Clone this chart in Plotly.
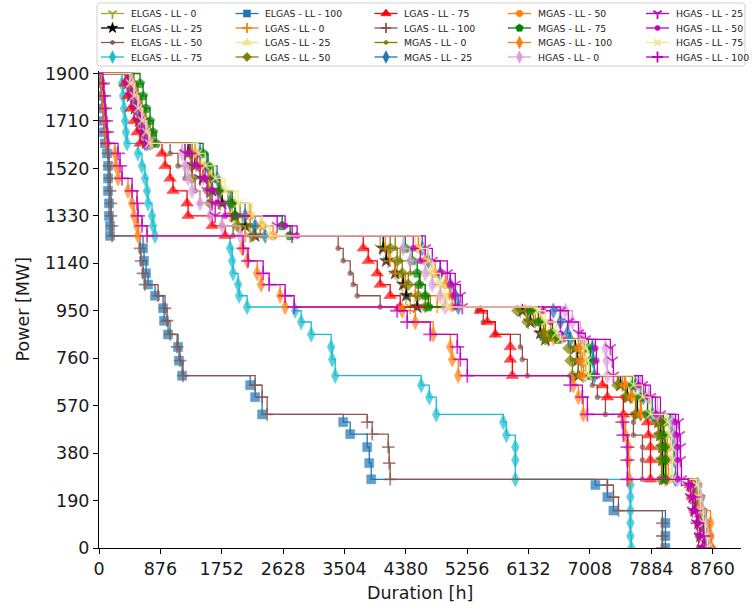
import plotly.graph_objects as go

# ---------------------------------------------------------------------------
# Duration curves of gas-fired output: hours [h] and power [MW] per scenario
# ---------------------------------------------------------------------------
ELGAS_LL_0_h = [0, 443, 500, 557, 614, 672, 729, 1229, 1329, 1443, 1586, 1729, 1901, 2044, 2158,
                4015, 4130, 4258, 4330, 4387, 4444, 6016, 6131, 6302, 6416, 6873, 6902, 6916,
                7474, 7588, 7731, 8017, 8045, 8074, 8074, 8088, 8488, 8517, 8545, 8588, 8631, 8660]
ELGAS_LL_0_mw = [1900, 1860, 1810, 1760, 1710, 1665, 1620, 1580, 1530, 1480, 1430, 1380, 1330, 1290, 1250,
                 1200, 1150, 1100, 1055, 1010, 965, 950, 905, 860, 835, 800, 750, 690,
                 652, 604, 535, 504, 452, 404, 352, 275, 252, 204, 150, 100, 48, 0]

ELGAS_LL_25_h = [0, 414, 457, 514, 572, 629, 672, 1272, 1372, 1486, 1615, 1758, 1943, 2086, 2229,
                 4058, 4101, 4230, 4344, 4387, 4544, 6045, 6159, 6302, 6373, 6802, 6831, 6845,
                 7445, 7545, 7688, 7988, 8017, 8045, 8045, 8060, 8445, 8474, 8502, 8560, 8588, 8631]
ELGAS_LL_25_mw = [1900, 1860, 1810, 1760, 1710, 1665, 1620, 1580, 1530, 1480, 1430, 1380, 1330, 1290, 1250,
                  1200, 1150, 1100, 1055, 1010, 965, 950, 905, 860, 835, 800, 750, 690,
                  652, 604, 535, 504, 452, 404, 352, 275, 252, 204, 150, 100, 48, 0]

ELGAS_LL_50_h = [0, 386, 429, 486, 543, 600, 643, 1015, 1129, 1229, 1372, 1443, 1586, 1758, 1915,
                 3415, 3487, 3587, 3630, 3687, 4015, 5402, 5487, 5659, 6016, 6045, 6116,
                 7045, 7116, 7231, 7631, 7631, 7760, 7760, 7760, 8474, 8502, 8531, 8545, 8545, 8560]
ELGAS_LL_50_mw = [1900, 1860, 1810, 1760, 1710, 1665, 1620, 1580, 1530, 1480, 1430, 1380, 1330, 1290, 1250,
                  1200, 1150, 1100, 1055, 1010, 965, 950, 905, 855, 805, 755, 690,
                  652, 604, 535, 504, 452, 404, 352, 275, 252, 204, 150, 100, 48, 0]

ELGAS_LL_75_h = [0, 329, 343, 357, 372, 386, 400, 557, 614, 657, 686, 700, 757, 772, 800,
                 1872, 1901, 1915, 1986, 2001, 2115, 2801, 2887, 3030, 3315, 3330, 3372,
                 4601, 4716, 4816, 5773, 5816, 5945, 5945, 5945, 7588, 7588, 7588, 7588, 7588, 7602]
ELGAS_LL_75_mw = [1900, 1860, 1810, 1760, 1710, 1665, 1620, 1580, 1530, 1480, 1430, 1380, 1330, 1290, 1250,
                  1200, 1150, 1100, 1055, 1010, 965, 950, 905, 855, 805, 755, 690,
                  652, 604, 535, 504, 452, 404, 352, 275, 252, 204, 150, 100, 48, 0]

ELGAS_LL_100_h = [0, 14, 29, 43, 57, 71, 86, 114, 129, 129, 129, 143, 143, 157, 157,
                  629, 643, 672, 700, 800, 915, 929, 986, 1129, 1143, 1186,
                  2158, 2229, 2329, 3487, 3587, 3830, 3859, 3887, 7088, 7259, 7345, 8088, 8088, 8088]
ELGAS_LL_100_mw = [1900, 1860, 1810, 1760, 1710, 1665, 1620, 1580, 1530, 1480, 1430, 1380, 1330, 1290, 1250,
                   1200, 1150, 1100, 1055, 1010, 960, 910, 855, 805, 750, 690,
                   652, 604, 535, 504, 456, 404, 340, 275, 252, 204, 150, 100, 48, 0]

LGAS_LL_0_h = [0, 429, 472, 529, 586, 643, 700, 1300, 1386, 1486, 1615, 1729, 1872, 1986, 2086,
               4087, 4158, 4230, 4373, 4516, 4830, 6088, 6230, 6373, 6488, 6902, 6931, 6945,
               7517, 7617, 7731, 8031, 8060, 8088, 8102, 8102, 8502, 8545, 8588, 8645, 8688, 8717]
LGAS_LL_0_mw = [1900, 1860, 1810, 1760, 1710, 1665, 1620, 1580, 1530, 1480, 1430, 1380, 1330, 1290, 1250,
                1200, 1150, 1100, 1055, 1010, 965, 950, 905, 860, 835, 800, 750, 690,
                652, 604, 535, 504, 452, 404, 352, 275, 252, 204, 150, 100, 48, 0]

LGAS_LL_25_h = [0, 472, 529, 586, 643, 700, 757, 1372, 1486, 1615, 1758, 1943, 2129, 2301, 2444,
                4516, 4659, 4730, 4844, 4887, 4916, 6230, 6330, 6488, 6559, 6916, 6945, 6959,
                7588, 7702, 7845, 8102, 8131, 8159, 8159, 8174, 8531, 8574, 8617, 8660, 8703, 8731]
LGAS_LL_25_mw = [1900, 1860, 1810, 1760, 1710, 1665, 1620, 1580, 1530, 1480, 1430, 1380, 1330, 1290, 1250,
                 1200, 1150, 1100, 1055, 1010, 965, 950, 905, 860, 835, 800, 750, 690,
                 652, 604, 535, 504, 452, 404, 352, 275, 252, 204, 150, 100, 48, 0]

LGAS_LL_50_h = [0, 486, 543, 600, 657, 715, 757, 1300, 1315, 1329, 1558, 1586, 1943, 1972, 2201,
                4158, 4258, 4330, 4416, 4559, 4659, 5973, 6116, 6345, 6373, 6702, 6731, 6759,
                7402, 7517, 7660, 7974, 7988, 8017, 8017, 8031, 8488, 8517, 8545, 8574, 8603, 8631]
LGAS_LL_50_mw = [1900, 1860, 1810, 1760, 1710, 1665, 1620, 1580, 1530, 1480, 1430, 1380, 1330, 1290, 1250,
                 1200, 1150, 1100, 1055, 1010, 965, 950, 905, 860, 835, 800, 750, 690,
                 652, 604, 535, 504, 452, 404, 352, 275, 252, 204, 150, 100, 48, 0]

LGAS_LL_75_h = [0, 372, 414, 457, 500, 543, 586, 900, 943, 1015, 1057, 1258, 1272, 1615, 1801,
                3773, 3844, 3973, 4015, 4158, 4301, 5444, 5545, 5659, 5873, 5873, 5902,
                7188, 7259, 7488, 7831, 7845, 7874, 7874, 7874, 8445, 8474, 8517, 8588, 8617, 8631]
LGAS_LL_75_mw = [1900, 1860, 1810, 1760, 1710, 1665, 1620, 1580, 1530, 1480, 1430, 1380, 1330, 1290, 1250,
                 1200, 1150, 1100, 1055, 1010, 965, 950, 905, 855, 805, 755, 690,
                 652, 604, 535, 504, 452, 404, 352, 275, 252, 204, 150, 100, 48, 0]

LGAS_LL_100_h = [0, 29, 43, 57, 71, 86, 100, 129, 143, 157, 157, 171, 171, 186, 186,
                 586, 600, 629, 657, 843, 943, 972, 1015, 1115, 1157, 1200,
                 2229, 2329, 2401, 3830, 3901, 4130, 4144, 4158, 7259, 7345, 7417, 8045, 8045, 8045]
LGAS_LL_100_mw = [1900, 1860, 1810, 1760, 1710, 1665, 1620, 1580, 1530, 1480, 1430, 1380, 1330, 1290, 1250,
                  1200, 1150, 1100, 1055, 1010, 960, 910, 855, 805, 750, 690,
                  652, 604, 535, 504, 456, 404, 340, 275, 252, 204, 150, 100, 48, 0]

MGAS_LL_0_h = [0, 500, 557, 614, 672, 729, 786, 1329, 1443, 1558, 1700, 1843, 2015, 2158, 2301,
               4230, 4301, 4444, 4587, 4659, 4730, 6116, 6202, 6373, 6445, 6788, 6816, 6845,
               7417, 7531, 7674, 7959, 7988, 8017, 8031, 8045, 8474, 8502, 8531, 8574, 8617, 8660]
MGAS_LL_0_mw = [1900, 1860, 1810, 1760, 1710, 1665, 1620, 1580, 1530, 1480, 1430, 1380, 1330, 1290, 1250,
                1200, 1150, 1100, 1055, 1010, 965, 950, 905, 860, 835, 800, 750, 690,
                652, 604, 535, 504, 452, 404, 352, 275, 252, 204, 150, 100, 48, 0]

MGAS_LL_25_h = [0, 443, 486, 543, 586, 643, 686, 1443, 1543, 1686, 1729, 1872, 2086, 2229, 2372,
                4616, 4701, 4873, 5016, 5087, 5130, 6488, 6588, 6688, 6731, 7045, 7059, 7074,
                7660, 7774, 7902, 8159, 8188, 8217, 8217, 8231, 8545, 8574, 8603, 8645, 8674, 8703]
MGAS_LL_25_mw = [1900, 1860, 1810, 1760, 1710, 1665, 1620, 1580, 1530, 1480, 1430, 1380, 1330, 1290, 1250,
                 1200, 1150, 1100, 1055, 1010, 965, 950, 905, 860, 835, 800, 750, 690,
                 652, 604, 535, 504, 452, 404, 352, 275, 252, 204, 150, 100, 48, 0]

MGAS_LL_50_h = [0, 457, 514, 572, 629, 686, 729, 1372, 1443, 1586, 1729, 1901, 2158, 2329, 2486,
                4559, 4659, 4801, 4944, 5016, 5044, 6188, 6302, 6445, 6530, 6845, 6873, 6888,
                7502, 7602, 7745, 8045, 8074, 8117, 8117, 8131, 8517, 8560, 8603, 8674, 8717, 8745]
MGAS_LL_50_mw = [1900, 1860, 1810, 1760, 1710, 1665, 1620, 1580, 1530, 1480, 1430, 1380, 1330, 1290, 1250,
                 1200, 1150, 1100, 1055, 1010, 965, 950, 905, 860, 835, 800, 750, 690,
                 652, 604, 535, 504, 452, 404, 352, 275, 252, 204, 150, 100, 48, 0]

MGAS_LL_75_h = [0, 586, 629, 672, 729, 772, 815, 1486, 1558, 1629, 1715, 1901, 1943, 2615, 2729,
                4373, 4473, 4544, 4573, 4659, 4701, 6159, 6273, 6473, 6559, 6988, 7016, 7016,
                7617, 7731, 7831, 8060, 8060, 8088, 8088, 8088, 8545, 8588, 8617, 8660, 8688, 8717]
MGAS_LL_75_mw = [1900, 1860, 1810, 1760, 1710, 1665, 1620, 1580, 1530, 1480, 1430, 1380, 1330, 1290, 1250,
                 1200, 1150, 1100, 1055, 1010, 965, 950, 905, 860, 835, 800, 750, 690,
                 652, 604, 535, 504, 452, 404, 352, 275, 252, 204, 150, 100, 48, 0]

MGAS_LL_100_h = [0, 43, 57, 71, 86, 100, 114, 229, 243, 272, 414, 472, 500, 543, 557,
                 2044, 2115, 2258, 2315, 2586, 2658, 4330, 4516, 4773, 5016, 5044, 5130,
                 6774, 6845, 6916, 7488, 7517, 7559, 7559, 7574, 8445, 8474, 8560, 8731, 8731, 8745]
MGAS_LL_100_mw = [1900, 1860, 1810, 1760, 1710, 1665, 1620, 1580, 1530, 1480, 1430, 1380, 1330, 1290, 1250,
                  1200, 1150, 1100, 1055, 1010, 965, 950, 905, 855, 805, 755, 690,
                  652, 604, 535, 504, 452, 404, 352, 275, 252, 204, 150, 100, 48, 0]

HGAS_LL_0_h = [0, 472, 514, 572, 629, 686, 729, 1186, 1229, 1272, 1329, 1443, 1586, 1758, 2015,
               4344, 4444, 4659, 4759, 4873, 4944, 6659, 6759, 6873, 6916, 7231, 7245, 7259,
               7731, 7845, 7974, 8188, 8217, 8245, 8245, 8260, 8560, 8588, 8617, 8660, 8688, 8717]
HGAS_LL_0_mw = [1900, 1860, 1810, 1760, 1710, 1665, 1620, 1580, 1530, 1480, 1430, 1380, 1330, 1290, 1250,
                1200, 1150, 1100, 1055, 1010, 965, 950, 905, 860, 835, 800, 750, 690,
                652, 604, 535, 504, 452, 404, 352, 275, 252, 204, 150, 100, 48, 0]

HGAS_LL_25_h = [0, 400, 457, 514, 572, 614, 657, 1229, 1329, 1443, 1543, 1615, 1658, 2544, 2758,
                4659, 4759, 4973, 5087, 5159, 5187, 6588, 6702, 6845, 6945, 7302, 7331, 7345,
                7760, 7874, 8017, 8274, 8288, 8302, 8302, 8317, 8417, 8445, 8474, 8531, 8574, 8617]
HGAS_LL_25_mw = [1900, 1860, 1810, 1760, 1710, 1665, 1620, 1580, 1530, 1480, 1430, 1380, 1330, 1290, 1250,
                 1200, 1150, 1100, 1055, 1010, 965, 950, 905, 860, 835, 800, 750, 690,
                 652, 604, 535, 504, 452, 404, 352, 275, 252, 204, 150, 100, 48, 0]

HGAS_LL_50_h = [0, 414, 472, 529, 586, 643, 686, 1300, 1401, 1515, 1615, 1700, 1801, 2658, 2829,
                4487, 4587, 4873, 5016, 5059, 5087, 6345, 6445, 6588, 6630, 7088, 7102, 7116,
                7702, 7802, 7945, 8231, 8245, 8260, 8260, 8260, 8460, 8488, 8517, 8560, 8588, 8617]
HGAS_LL_50_mw = [1900, 1860, 1810, 1760, 1710, 1665, 1620, 1580, 1530, 1480, 1430, 1380, 1330, 1290, 1250,
                 1200, 1150, 1100, 1055, 1010, 965, 950, 905, 860, 835, 800, 750, 690,
                 652, 604, 535, 504, 452, 404, 352, 275, 252, 204, 150, 100, 48, 0]

HGAS_LL_75_h = [0, 443, 500, 557, 614, 672, 715, 1415, 1515, 1658, 1801, 1986, 2186, 2329, 2444,
                4587, 4701, 4759, 4873, 4944, 4973, 6259, 6373, 6530, 6588, 6945, 6974, 6988,
                7631, 7760, 7874, 8117, 8145, 8174, 8188, 8188, 8531, 8560, 8588, 8631, 8660, 8688]
HGAS_LL_75_mw = [1900, 1860, 1810, 1760, 1710, 1665, 1620, 1580, 1530, 1480, 1430, 1380, 1330, 1290, 1250,
                 1200, 1150, 1100, 1055, 1010, 965, 950, 905, 860, 835, 800, 750, 690,
                 652, 604, 535, 504, 452, 404, 352, 275, 252, 204, 150, 100, 48, 0]

HGAS_LL_100_h = [0, 57, 71, 86, 100, 114, 129, 272, 300, 329, 472, 543, 557, 614, 686,
                 2058, 2129, 2344, 2429, 2658, 2787, 4258, 4401, 4730, 5116, 5159, 5259,
                 6731, 6902, 6974, 7474, 7488, 7545, 7545, 7545, 8417, 8488, 8517, 8545, 8631, 8645]
HGAS_LL_100_mw = [1900, 1860, 1810, 1760, 1710, 1665, 1620, 1580, 1530, 1480, 1430, 1380, 1330, 1290, 1250,
                  1200, 1150, 1100, 1055, 1010, 965, 950, 905, 855, 805, 755, 690,
                  652, 604, 535, 504, 452, 404, 352, 275, 252, 204, 150, 100, 48, 0]

X_TICKS = [0, 876, 1752, 2628, 3504, 4380, 5256, 6132, 7008, 7884, 8760]
Y_TICKS = [0, 190, 380, 570, 760, 950, 1140, 1330, 1520, 1710, 1900]

# name, hours, power, colour, marker symbol, marker size, line-type marker
SERIES = [
    ("ELGAS - LL - 0", ELGAS_LL_0_h, ELGAS_LL_0_mw, "#a5a531", "y-down", 9, True),
    ("ELGAS - LL - 25", ELGAS_LL_25_h, ELGAS_LL_25_mw, "#000000", "star", 10, False),
    ("ELGAS - LL - 50", ELGAS_LL_50_h, ELGAS_LL_50_mw, "#8c564b", "circle", 5, False),
    ("ELGAS - LL - 75", ELGAS_LL_75_h, ELGAS_LL_75_mw, "#17becf", "diamond-tall", 11, False),
    ("ELGAS - LL - 100", ELGAS_LL_100_h, ELGAS_LL_100_mw, "#1f77b4", "square", 9, False),
    ("LGAS - LL - 0", LGAS_LL_0_h, LGAS_LL_0_mw, "#ff7f0e", "cross-thin", 9, True),
    ("LGAS - LL - 25", LGAS_LL_25_h, LGAS_LL_25_mw, "#eee58e", "triangle-up", 11, False),
    ("LGAS - LL - 50", LGAS_LL_50_h, LGAS_LL_50_mw, "#808000", "diamond", 9, False),
    ("LGAS - LL - 75", LGAS_LL_75_h, LGAS_LL_75_mw, "#ff0000", "triangle-up", 11, False),
    ("LGAS - LL - 100", LGAS_LL_100_h, LGAS_LL_100_mw, "#8c564b", "cross-thin", 9, True),
    ("MGAS - LL - 0", MGAS_LL_0_h, MGAS_LL_0_mw, "#808000", "circle", 5, False),
    ("MGAS - LL - 25", MGAS_LL_25_h, MGAS_LL_25_mw, "#1f77b4", "diamond-tall", 11, False),
    ("MGAS - LL - 50", MGAS_LL_50_h, MGAS_LL_50_mw, "#ff7f0e", "octagon", 9, False),
    ("MGAS - LL - 75", MGAS_LL_75_h, MGAS_LL_75_mw, "#008000", "pentagon", 10, False),
    ("MGAS - LL - 100", MGAS_LL_100_h, MGAS_LL_100_mw, "#ff7f0e", "diamond-tall", 11, False),
    ("HGAS - LL - 0", HGAS_LL_0_h, HGAS_LL_0_mw, "#dda0dd", "diamond-tall", 11, False),
    ("HGAS - LL - 25", HGAS_LL_25_h, HGAS_LL_25_mw, "#bf00bf", "y-down", 9, True),
    ("HGAS - LL - 50", HGAS_LL_50_h, HGAS_LL_50_mw, "#bf00bf", "circle", 6, False),
    ("HGAS - LL - 75", HGAS_LL_75_h, HGAS_LL_75_mw, "#f0e68c", "x-thin", 8, True),
    ("HGAS - LL - 100", HGAS_LL_100_h, HGAS_LL_100_mw, "#bf00bf", "cross-thin", 10, True),
]

FONT = "DejaVu Sans"
W, H = 755, 610
# plot box in pixels
PX_L, PX_R, PX_T, PX_B = 99, 741, 71, 548


def marker_style(color, symbol, size, line_marker, sizes=None):
    return dict(
        symbol=symbol,
        size=sizes if sizes is not None else size,
        color=color,
        line=dict(color=color, width=1.8 if line_marker else 0.6),
    )


fig = go.Figure()

# duration curves (step shape: hold the level, then drop)
for name, hrs, mw, color, symbol, size, line_marker in SERIES:
    sizes = [0] + [size] * (len(hrs) - 1)
    fig.add_trace(go.Scatter(
        x=hrs, y=mw, name=name, mode="lines+markers",
        line=dict(color=color, width=1.3, shape="hv"),
        marker=marker_style(color, symbol, size, line_marker, sizes),
        showlegend=False, xaxis="x", yaxis="y",
    ))

# legend drawn on an overlay axis in pixel units (4 rows x 5 columns, column-major)
ROW_Y = [13.5, 28.0, 42.5, 57.0]
COL_TEXT_X = [128.5, 263.0, 402.0, 535.5, 673.5]
for i, (name, hrs, mw, color, symbol, size, line_marker) in enumerate(SERIES):
    col, row = divmod(i, 4)
    tx, ty = COL_TEXT_X[col], ROW_Y[row]
    fig.add_trace(go.Scatter(
        x=[tx - 27.5, tx - 4.5], y=[ty, ty], mode="lines",
        line=dict(color=color, width=1.3), showlegend=False, hoverinfo="skip",
        xaxis="x2", yaxis="y2",
    ))
    fig.add_trace(go.Scatter(
        x=[tx - 16], y=[ty], mode="markers",
        marker=marker_style(color, symbol, round(size * 0.8), line_marker),
        showlegend=False, hoverinfo="skip", xaxis="x2", yaxis="y2",
    ))
    fig.add_annotation(
        x=tx, y=ty, xref="x2", yref="y2", text=name, showarrow=False,
        xanchor="left", yanchor="middle", font=dict(family=FONT, size=9.3, color="#222222"),
    )

# rounded legend frame
bx0, bx1, by0, by1, r = 97, 745, 3, 66, 3
frame = (f"M {bx0 + r},{by0} L {bx1 - r},{by0} Q {bx1},{by0} {bx1},{by0 + r} "
         f"L {bx1},{by1 - r} Q {bx1},{by1} {bx1 - r},{by1} L {bx0 + r},{by1} "
         f"Q {bx0},{by1} {bx0},{by1 - r} L {bx0},{by0 + r} Q {bx0},{by0} {bx0 + r},{by0} Z")
fig.add_shape(type="path", path=frame, xref="x2", yref="y2",
              line=dict(color="#d0d0d0", width=1), fillcolor="rgba(255,255,255,0.8)", layer="below")

axis_common = dict(
    showgrid=False, zeroline=False, showline=True, linecolor="#000000", linewidth=1,
    ticks="outside", ticklen=5, tickwidth=1, tickcolor="#000000",
    tickfont=dict(family=FONT, size=17.5, color="#1a1a1a"), automargin=False,
)

fig.update_layout(
    width=W, height=H,
    margin=dict(l=0, r=0, t=0, b=0),
    paper_bgcolor="white", plot_bgcolor="white",
    showlegend=False,
    xaxis=dict(domain=[PX_L / W, PX_R / W], range=[0, 9167], tickvals=X_TICKS,
               anchor="y", **axis_common),
    yaxis=dict(domain=[(H - PX_B) / H, (H - PX_T) / H], range=[0, 1910], tickvals=Y_TICKS,
               anchor="x", **axis_common),
    xaxis2=dict(domain=[0, 1], range=[0, W], anchor="y2", visible=False, fixedrange=True),
    yaxis2=dict(domain=[(H - 70) / H, 1], range=[70, 0], anchor="x2", visible=False, fixedrange=True),
)

# axis titles
fig.add_annotation(x=(PX_L + PX_R) / 2 / W, y=(H - 593) / H, xref="paper", yref="paper",
                   text="Duration [h]", showarrow=False, xanchor="center", yanchor="middle",
                   font=dict(family=FONT, size=17.5, color="#1a1a1a"))
fig.add_annotation(x=22 / W, y=(H - (PX_T + PX_B) / 2) / H, xref="paper", yref="paper",
                   text="Power [MW]", showarrow=False, textangle=-90, xanchor="center",
                   yanchor="middle", font=dict(family=FONT, size=17.5, color="#1a1a1a"))

fig.write_html("out.html")
